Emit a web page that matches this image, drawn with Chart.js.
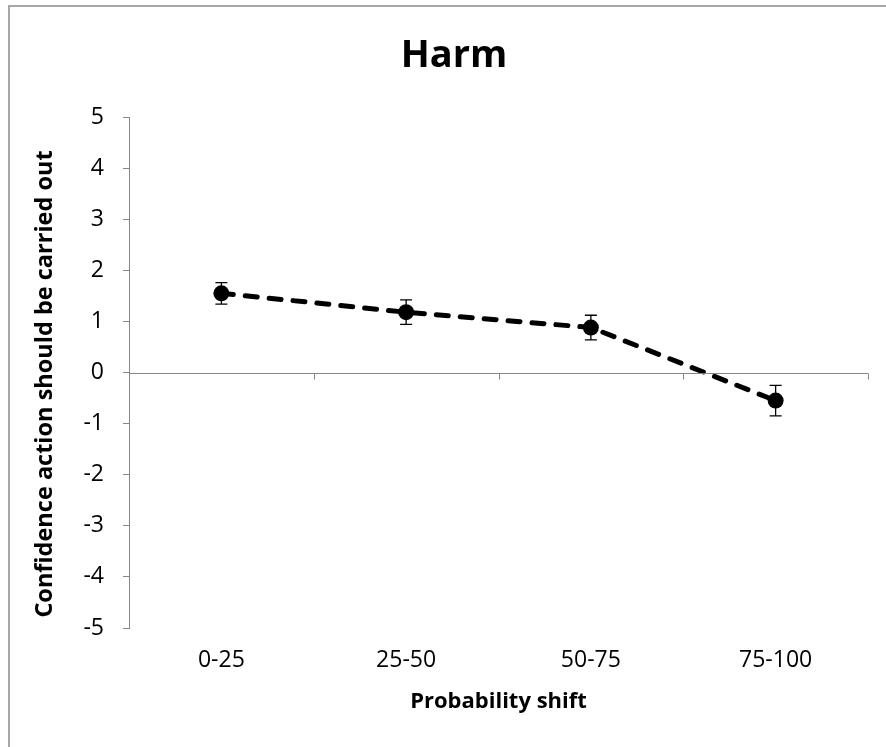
<!DOCTYPE html>
<html>
<head>
<meta charset="utf-8">
<script src="https://cdn.jsdelivr.net/npm/chart.js@4"></script>
<style>
html,body{margin:0;padding:0;background:#fff;}
#wrap{position:relative;width:886px;height:747px;}
</style>
</head>
<body>
<div id="wrap"><canvas id="c" width="886" height="747"></canvas></div>
<script>
const categories = ['0-25', '25-50', '50-75', '75-100'];
const confidence = [1.55, 1.18, 0.88, -0.55];
const errorUp = [0.21, 0.24, 0.24, 0.30];
const errorDown = [0.21, 0.24, 0.24, 0.30];
const yTicks = [-5, -4, -3, -2, -1, 0, 1, 2, 3, 4, 5];
const chartTitle = 'Harm';
const xTitle = 'Probability shift';
const yTitle = 'Confidence action should be carried out';

const axisGray = '#868686';

const framePlugin = {
  id: 'frame',
  beforeDraw(chart) {
    const ctx = chart.ctx;
    ctx.save();
    ctx.fillStyle = '#a6a6a6';
    ctx.fillRect(8, 5, 2, 742);
    ctx.fillRect(8, 5, 878, 2);
    ctx.restore();
  },
  afterDraw(chart) {
    const ctx = chart.ctx;
    ctx.save();
    ctx.fillStyle = '#000';
    ctx.textAlign = 'center';
    ctx.textBaseline = 'middle';
    ctx.font = 'bold 38px "Open Sans"';
    ctx.fillText(chartTitle, 454, 56);
    ctx.translate(45, 384);
    ctx.rotate(-Math.PI / 2);
    ctx.font = 'bold 23.5px "Open Sans"';
    ctx.fillText(yTitle, 0, 0);
    ctx.restore();
  }
};

const zeroAxisPlugin = {
  id: 'zeroAxis',
  afterDatasetsDraw(chart) {
    const ctx = chart.ctx;
    const x = chart.scales.x, y = chart.scales.y;
    const y0 = Math.round(y.getPixelForValue(0)) + 0.5;
    ctx.save();
    ctx.strokeStyle = axisGray;
    ctx.lineWidth = 1;
    ctx.beginPath();
    ctx.moveTo(x.left, y0);
    ctx.lineTo(x.right, y0);
    const n = categories.length;
    for (let i = 1; i <= n; i++) {
      const px = Math.round(x.left + (x.right - x.left) * i / n) + 0.5;
      ctx.moveTo(px, y0);
      ctx.lineTo(px, y0 + 6);
    }
    ctx.stroke();
    ctx.restore();
  },
  beforeDatasetsDraw(chart) {
    const ctx = chart.ctx;
    const x = chart.scales.x, y = chart.scales.y;
    ctx.save();
    ctx.strokeStyle = '#000';
    ctx.lineWidth = 1.3;
    ctx.beginPath();
    confidence.forEach((v, i) => {
      const px = x.getPixelForValue(i);
      const top = y.getPixelForValue(v + errorUp[i]);
      const bot = y.getPixelForValue(v - errorDown[i]);
      ctx.moveTo(px, top); ctx.lineTo(px, bot);
      ctx.moveTo(px - 6, top); ctx.lineTo(px + 6, top);
      ctx.moveTo(px - 6, bot); ctx.lineTo(px + 6, bot);
    });
    ctx.stroke();
    ctx.restore();
  }
};

new Chart(document.getElementById('c'), {
  type: 'line',
  data: {
    labels: categories,
    datasets: [{
      data: confidence,
      borderColor: '#000',
      backgroundColor: '#000',
      borderWidth: 5,
      borderDash: [12, 12],
      borderCapStyle: 'round',
      pointRadius: 8,
      pointBackgroundColor: '#000',
      pointBorderWidth: 0,
      tension: 0,
      fill: false
    }]
  },
  options: {
    responsive: false,
    animation: false,
    devicePixelRatio: 1,
    layout: { padding: { left: 10, right: 18, top: 117, bottom: 0 } },
    plugins: {
      legend: { display: false },
      tooltip: { enabled: false },
      title: { display: false }
    },
    scales: {
      x: {
        type: 'category',
        offset: true,
        border: { display: false },
        grid: { display: false, drawTicks: false },
        ticks: { color: '#000', font: { family: 'Open Sans', size: 23 }, padding: 19, maxRotation: 0 },
        title: {
          display: true,
          text: xTitle,
          color: '#000',
          font: { family: 'Open Sans', size: 22, weight: 'bold', lineHeight: 1.2 },
          padding: { top: 0, bottom: 32 }
        },
        afterFit(s) { s.height = 119; }
      },
      y: {
        min: -5,
        max: 5,
        afterBuildTicks(s) { s.ticks = yTicks.map(v => ({ value: v })); },
        border: { display: true, color: axisGray, width: 1 },
        grid: { drawOnChartArea: false, drawTicks: true, tickLength: 6, color: axisGray },
        ticks: { color: '#000', font: { family: 'Open Sans', size: 23 }, padding: 19 },
        title: { display: false },
        afterFit(s) { s.width = 119; }
      }
    }
  },
  plugins: [framePlugin, zeroAxisPlugin]
});
</script>
</body>
</html>
